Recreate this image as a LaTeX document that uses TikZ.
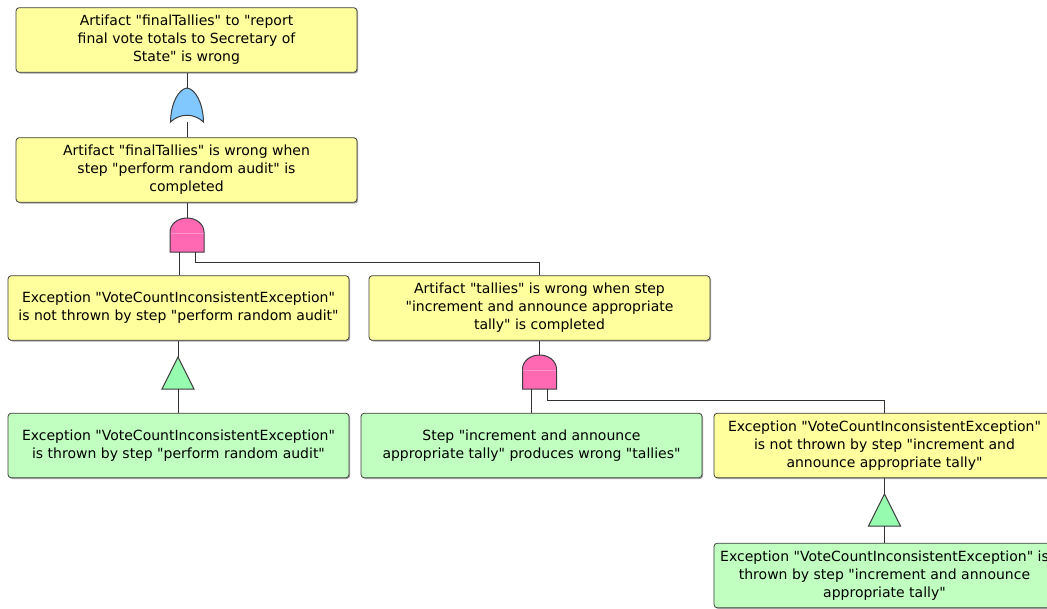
\documentclass[tikz,border=0pt]{standalone}
\usepackage{fontspec}
\setmainfont{DejaVu Sans}[Ligatures=TeXOff]
\usetikzlibrary{shadows}
\definecolor{eventyellow}{RGB}{255,255,158}
\definecolor{basicgreen}{RGB}{192,255,192}
\definecolor{andpink}{RGB}{255,105,180}
\definecolor{orblue}{RGB}{128,200,255}
\definecolor{triggreen}{RGB}{150,250,175}
\definecolor{boxline}{RGB}{60,60,60}
\definecolor{wiregray}{RGB}{50,50,50}

\tikzset{
  pics/orgate/.style={code={
    \draw[fill=orblue, draw=boxline, line width=0.75pt] (-16.5,0) .. controls (-16,-20) and (-8,-33) .. (0,-34) .. controls (8,-33) and (16,-20) .. (16.5,0) .. controls (7,-9) and (-7,-9) .. cycle;
    \coordinate (-out) at (0,-34);
    \coordinate (-in) at (0,0);
  }},
  pics/andgate/.style={code={
    \draw[fill=andpink, draw=boxline, line width=0.75pt] (-17,0) -- (-17,-20) arc[start angle=180, end angle=360, x radius=17, y radius=14] -- (17,0) -- cycle;
    \draw[white, opacity=0.3] (-16.5,-19) -- (16.5,-19);
    \coordinate (-out) at (0,-34);
    \coordinate (-l) at (-8,0);
    \coordinate (-r) at (8,0);
  }},
  pics/transfer/.style={code={
    \draw[fill=triggreen, draw=boxline, line width=0.75pt] (-16,0) -- (0,-32) -- (16,0) -- cycle;
    \coordinate (-out) at (0,-32);
    \coordinate (-in) at (0,0);
  }}
}

\begin{document}
\begin{tikzpicture}[x=0.75pt, y=-0.75pt,
  box/.style={rectangle, rounded corners=2.5pt, draw=boxline, line width=0.6pt,
    minimum width=255.75pt, minimum height=48.5pt, inner sep=0pt, align=center,
    font=\fontsize{10.5}{13.5}\selectfont,
    drop shadow={shadow xshift=0.9pt, shadow yshift=-0.9pt, fill=black, opacity=0.35}},
  event/.style={box, fill=eventyellow},
  basic/.style={box, fill=basicgreen},
  wire/.style={draw=wiregray, line width=0.7pt}]
\useasboundingbox (0,0) rectangle (1047,608);
\clip (0,0) rectangle (1047,608);

% events
\node[event] (top) at (186.5,40) {Artifact "finalTallies" to "report\\final vote totals to Secretary of\\State" is wrong};
\node[event] (audit) at (186.5,170) {Artifact "finalTallies" is wrong when\\step "perform random audit" is\\completed};
\node[event] (notthrown) at (178.5,308) {Exception "VoteCountInconsistentException"\\is not thrown by step "perform random audit"};
\node[event] (tallies) at (539.5,308) {Artifact "tallies" is wrong when step\\"increment and announce appropriate\\tally" is completed};
\node[basic] (thrown) at (178.5,445.5) {Exception "VoteCountInconsistentException"\\is thrown by step "perform random audit"};
\node[basic] (wrongstep) at (531.5,445.5) {Step "increment and announce\\appropriate tally" produces wrong "tallies"};
\node[event] (notthrowninc) at (884.5,445.5) {Exception "VoteCountInconsistentException"\\is not thrown by step "increment and\\announce appropriate tally"};
\node[basic] (throwninc) at (884.5,575.5) {Exception "VoteCountInconsistentException" is\\thrown by step "increment and announce\\appropriate tally"};

% gates
\pic (or1) at (187,122) {orgate};
\pic (and1) at (187,252) {andgate};
\pic (tr1) at (178,389) {transfer};
\pic (and2) at (539.5,389) {andgate};
\pic (tr2) at (884.5,526) {transfer};

% wires
\draw[wire] (or1-out) -- (or1-out |- top.south);
\draw[wire] (or1-in) -- (or1-in |- audit.north);
\draw[wire] (and1-out) -- (and1-out |- audit.south);
\draw[wire] (and1-l) -- (and1-l |- notthrown.north);
\draw[wire] (and1-r) -- ++(0,10) -| (tallies.north);
\draw[wire] (tr1-out) -- (tr1-out |- notthrown.south);
\draw[wire] (tr1-in) -- (tr1-in |- thrown.north);
\draw[wire] (and2-out) -- (and2-out |- tallies.south);
\draw[wire] (and2-l) -- (and2-l |- wrongstep.north);
\draw[wire] (and2-r) -- ++(0,11) -| (notthrowninc.north);
\draw[wire] (tr2-out) -- (tr2-out |- notthrowninc.south);
\draw[wire] (tr2-in) -- (tr2-in |- throwninc.north);
\end{tikzpicture}
\end{document}
